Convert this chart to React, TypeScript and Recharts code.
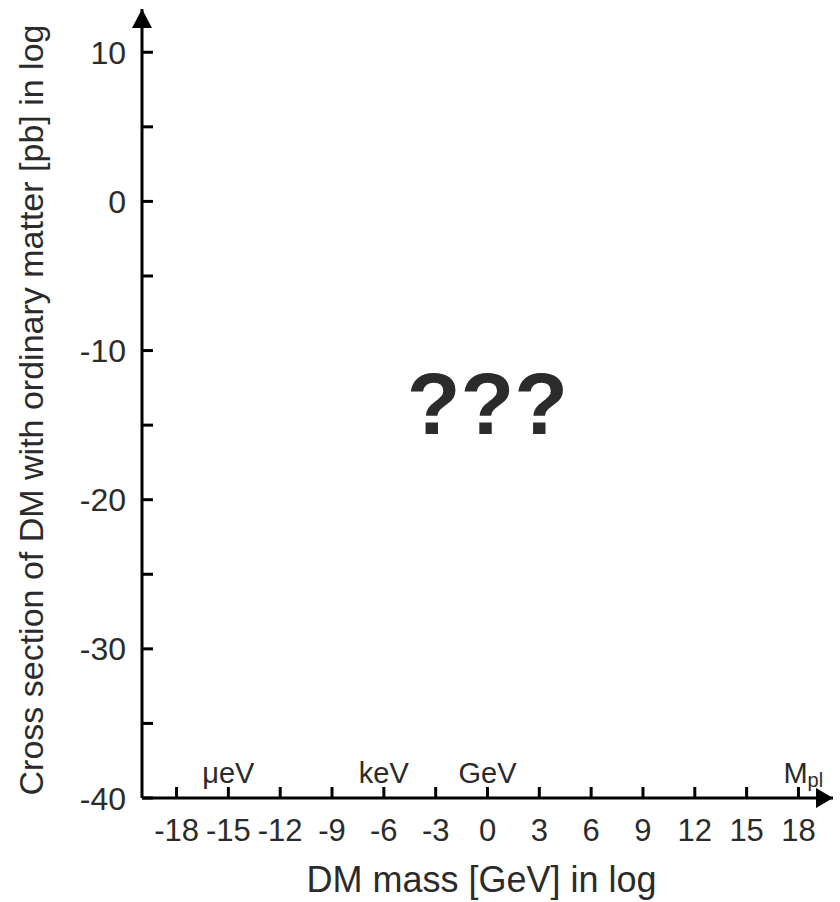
import React from 'react';
import { ComposedChart, XAxis, YAxis, Scatter, ReferenceDot, Label } from 'recharts';

const xTicks = [-18, -15, -12, -9, -6, -3, 0, 3, 6, 9, 12, 15, 18];
const yTicks = [-40, -35, -30, -25, -20, -15, -10, -5, 0, 5, 10];
const yLabelled = [-40, -30, -20, -10, 0, 10];
const unitMarks = [
  { x: -15, y: -40, name: 'μeV' },
  { x: -6, y: -40, name: 'keV' },
  { x: 0, y: -40, name: 'GeV' },
  { x: 18, y: -40, name: 'M', sub: 'pl' },
];
const xDomain = [-20, 20];
const yDomain = [-40, 12.9];

const FONT = '"Liberation Sans", Arial, Helvetica, sans-serif';
const TEXT = '#2b2b2b';

const XTick = ({ x, y, payload }: any) => (
  <g>
    <line x1={x} x2={x} y1={y} y2={y - 11} stroke="#000" strokeWidth={3} />
    <text x={x} y={y + 43} textAnchor="middle" fontSize={31} fill={TEXT} fontFamily={FONT}>
      {payload.value}
    </text>
  </g>
);

const YTick = ({ x, y, payload }: any) => (
  <g>
    <line x1={x} x2={x + 11} y1={y} y2={y} stroke="#000" strokeWidth={3} />
    {yLabelled.includes(payload.value) && (
      <text x={x - 16} y={y} dy="0.36em" textAnchor="end" fontSize={32} fill={TEXT} fontFamily={FONT}>
        {payload.value}
      </text>
    )}
  </g>
);

const UnitMark = ({ cx, cy, payload }: any) => {
  if (payload.sub) {
    return (
      <text x={cx - 15} y={cy - 15} fontSize={29} fill={TEXT} fontFamily={FONT}>
        {payload.name}
        <tspan fontSize={20} dy={4}>{payload.sub}</tspan>
      </text>
    );
  }
  return (
    <text x={cx} y={cy - 15} textAnchor="middle" fontSize={29} fill={TEXT} fontFamily={FONT}>
      {payload.name}
    </text>
  );
};

const ArrowRight = ({ cx, cy }: any) => (
  <polygon points={`${cx},${cy} ${cx - 17},${cy - 10} ${cx - 17},${cy + 10}`} fill="#000" />
);

const ArrowUp = ({ cx, cy }: any) => (
  <polygon points={`${cx},${cy} ${cx - 10},${cy + 19} ${cx + 10},${cy + 19}`} fill="#000" />
);

const Question = ({ cx, cy }: any) => (
  <text x={cx} y={cy} dy="0.36em" textAnchor="middle" fontSize={88} fontWeight="bold" fill={TEXT} fontFamily={FONT}>
    ???
  </text>
);

export default function App() {
  return (
    <div style={{ position: 'absolute', left: 0, top: 0, background: '#fff' }}>
      <ComposedChart width={840} height={902} margin={{ top: 9, right: 7, bottom: 0, left: 0 }}>
        <XAxis
          type="number"
          dataKey="x"
          domain={xDomain}
          ticks={xTicks}
          interval={0}
          height={104}
          tickSize={0}
          tickMargin={0}
          tickLine={false}
          tick={<XTick />}
          axisLine={{ stroke: '#000', strokeWidth: 3 }}
          allowDataOverflow
        >
          <Label
            value="DM mass [GeV] in log"
            position="insideBottom"
            offset={10}
            dx={-6}
            fontSize={36}
            fill={TEXT}
            fontFamily={FONT}
          />
        </XAxis>
        <YAxis
          type="number"
          dataKey="y"
          domain={yDomain}
          ticks={yTicks}
          interval={0}
          width={142}
          tickSize={0}
          tickMargin={0}
          tickLine={false}
          tick={<YTick />}
          axisLine={{ stroke: '#000', strokeWidth: 3 }}
          allowDataOverflow
        >
          <Label
            content={() => (
              <text
                x={43}
                y={410}
                transform="rotate(-90 43 410)"
                textAnchor="middle"
                fontSize={34}
                fill={TEXT}
                fontFamily={FONT}
              >
                Cross section of DM with ordinary matter [pb] in log
              </text>
            )}
          />
        </YAxis>
        <Scatter data={unitMarks} dataKey="y" shape={<UnitMark />} isAnimationActive={false} />
        <ReferenceDot x={xDomain[1]} y={yDomain[0]} r={0} shape={<ArrowRight />} ifOverflow="visible" />
        <ReferenceDot x={xDomain[0]} y={yDomain[1]} r={0} shape={<ArrowUp />} ifOverflow="visible" />
        <ReferenceDot x={0} y={-13.5} r={0} shape={<Question />} ifOverflow="visible" />
      </ComposedChart>
    </div>
  );
}
